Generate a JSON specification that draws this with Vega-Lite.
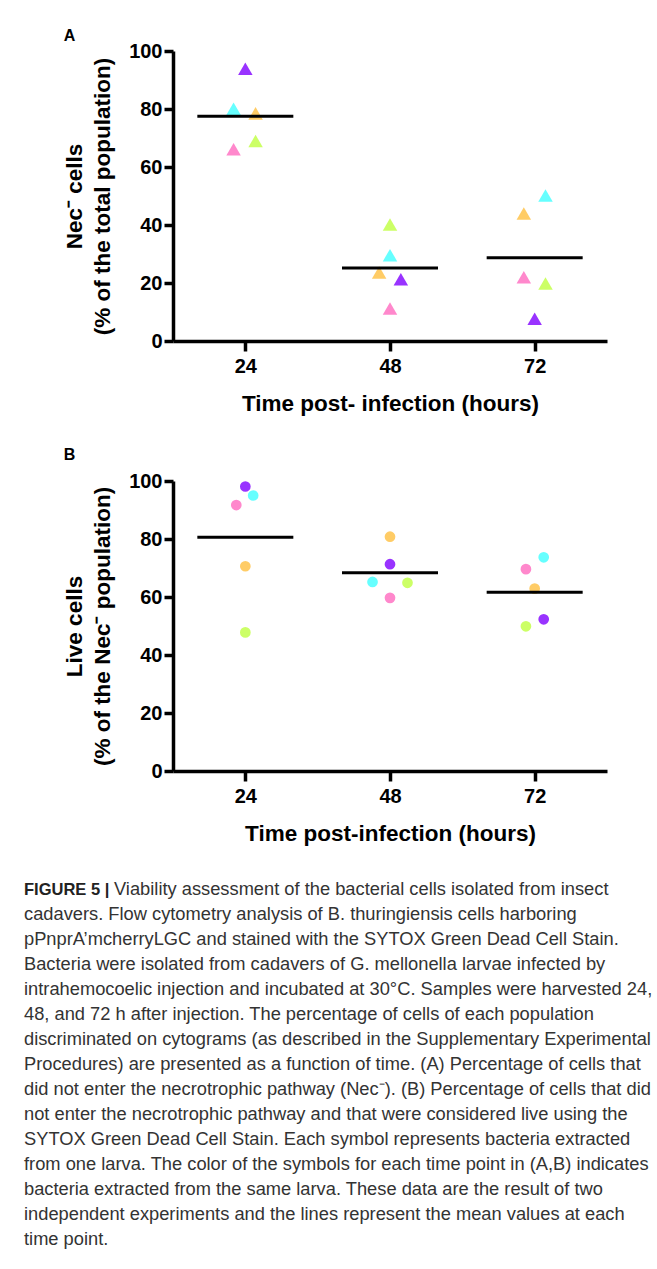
{
  "$schema": "https://vega.github.io/schema/vega-lite/v6.json",
  "background": "white",
  "padding": {"left": 24, "top": 28, "right": 4, "bottom": 20},
  "bounds": "flush",
  "spacing": 140,
  "config": {
    "view": {"stroke": null},
    "font": "Liberation Sans",
    "axis": {
      "grid": false,
      "domainColor": "#000000",
      "domainWidth": 3.5,
      "tickColor": "#000000",
      "tickWidth": 3.5,
      "tickSize": 9,
      "labelFont": "Liberation Sans",
      "labelFontSize": 20,
      "labelFontWeight": "bold",
      "labelColor": "#000000",
      "titleFont": "Liberation Sans",
      "titleFontSize": 22.5,
      "titleFontWeight": "bold",
      "titleColor": "#000000",
      "titleLineHeight": 28
    },
    "axisX": {"labelPadding": 5, "titlePadding": 16, "tickSize": 10},
    "axisY": {"labelPadding": 2, "titlePadding": 14},
    "title": {"font": "Liberation Sans", "fontSize": 16, "fontWeight": "bold", "color": "#000000", "anchor": "start", "frame": "bounds"}
  },
  "datasets": {
    "nec": [
      {"time": 24, "pos": 24.0, "larva": "L1", "value": 93.9},
      {"time": 24, "pos": 22.05, "larva": "L2", "value": 80.1},
      {"time": 24, "pos": 25.7, "larva": "L3", "value": 78.5},
      {"time": 24, "pos": 25.7, "larva": "L4", "value": 69.0},
      {"time": 24, "pos": 22.05, "larva": "L5", "value": 66.1},
      {"time": 48, "pos": 48.0, "larva": "L4", "value": 40.2},
      {"time": 48, "pos": 48.0, "larva": "L2", "value": 29.6},
      {"time": 48, "pos": 46.2, "larva": "L3", "value": 23.6},
      {"time": 48, "pos": 49.8, "larva": "L1", "value": 21.3},
      {"time": 48, "pos": 48.0, "larva": "L5", "value": 11.2},
      {"time": 72, "pos": 73.8, "larva": "L2", "value": 50.2},
      {"time": 72, "pos": 70.2, "larva": "L3", "value": 44.0},
      {"time": 72, "pos": 70.2, "larva": "L5", "value": 22.0},
      {"time": 72, "pos": 73.8, "larva": "L4", "value": 19.8},
      {"time": 72, "pos": 72.0, "larva": "L1", "value": 7.7}
    ],
    "live": [
      {"time": 24, "pos": 24.0, "larva": "L1", "value": 98.1},
      {"time": 24, "pos": 25.3, "larva": "L2", "value": 95.0},
      {"time": 24, "pos": 22.5, "larva": "L5", "value": 91.7},
      {"time": 24, "pos": 24.0, "larva": "L3", "value": 70.6},
      {"time": 24, "pos": 24.0, "larva": "L4", "value": 47.8},
      {"time": 48, "pos": 48.0, "larva": "L3", "value": 80.8},
      {"time": 48, "pos": 48.0, "larva": "L1", "value": 71.3},
      {"time": 48, "pos": 45.1, "larva": "L2", "value": 65.2},
      {"time": 48, "pos": 50.9, "larva": "L4", "value": 64.9},
      {"time": 48, "pos": 48.0, "larva": "L5", "value": 59.7},
      {"time": 72, "pos": 73.5, "larva": "L2", "value": 73.7},
      {"time": 72, "pos": 70.55, "larva": "L5", "value": 69.6},
      {"time": 72, "pos": 72.0, "larva": "L3", "value": 62.9},
      {"time": 72, "pos": 73.5, "larva": "L1", "value": 52.3},
      {"time": 72, "pos": 70.55, "larva": "L4", "value": 49.9}
    ],
    "caption": [
      {"line": 1, "style": "bold", "text": "FIGURE 5 |"},
      {"line": 1, "style": "lead", "text": "Viability assessment of the bacterial cells isolated from insect"},
      {"line": 2, "style": "plain", "text": "cadavers. Flow cytometry analysis of B. thuringiensis cells harboring"},
      {"line": 3, "style": "plain", "text": "pPnprA’mcherryLGC and stained with the SYTOX Green Dead Cell Stain."},
      {"line": 4, "style": "plain", "text": "Bacteria were isolated from cadavers of G. mellonella larvae infected by"},
      {"line": 5, "style": "plain", "text": "intrahemocoelic injection and incubated at 30°C. Samples were harvested 24,"},
      {"line": 6, "style": "plain", "text": "48, and 72 h after injection. The percentage of cells of each population"},
      {"line": 7, "style": "plain", "text": "discriminated on cytograms (as described in the Supplementary Experimental"},
      {"line": 8, "style": "plain", "text": "Procedures) are presented as a function of time. (A) Percentage of cells that"},
      {"line": 9, "style": "plain", "text": "did not enter the necrotrophic pathway (Nec⁻). (B) Percentage of cells that did"},
      {"line": 10, "style": "plain", "text": "not enter the necrotrophic pathway and that were considered live using the"},
      {"line": 11, "style": "plain", "text": "SYTOX Green Dead Cell Stain. Each symbol represents bacteria extracted"},
      {"line": 12, "style": "plain", "text": "from one larva. The color of the symbols for each time point in (A,B) indicates"},
      {"line": 13, "style": "plain", "text": "bacteria extracted from the same larva. These data are the result of two"},
      {"line": 14, "style": "plain", "text": "independent experiments and the lines represent the mean values at each"},
      {"line": 15, "style": "plain", "text": "time point."}
    ]
  },
  "vconcat": [
    {
      "width": 434,
      "height": 290,
      "title": {"text": "A", "offset": -3},
      "data": {"name": "nec"},
      "layer": [
        {
          "mark": {"type": "point", "shape": "triangle-up", "filled": true, "size": 210, "opacity": 1, "strokeWidth": 0},
          "encoding": {
            "x": {"field": "pos", "type": "quantitative", "scale": {"domain": [12, 84], "nice": false, "zero": false}, "axis": {"values": [24, 48, 72], "title": "Time post- infection (hours)"}},
            "y": {"field": "value", "type": "quantitative", "scale": {"domain": [0, 100], "nice": false}, "axis": {"values": [0, 20, 40, 60, 80, 100], "title": ["Nec⁻ cells", "(% of the total population)"]}},
            "color": {"field": "larva", "type": "nominal", "scale": {"domain": ["L1", "L2", "L3", "L4", "L5"], "range": ["#9933ff", "#66ffff", "#ffcc66", "#ccff66", "#ff88cc"]}, "legend": null}
          }
        },
        {
          "mark": {"type": "tick", "orient": "horizontal", "size": 96, "thickness": 3, "color": "#000000", "opacity": 1},
          "encoding": {
            "x": {"field": "time", "type": "quantitative", "title": "Time post- infection (hours)"},
            "y": {"aggregate": "mean", "field": "value", "type": "quantitative", "title": ["Nec⁻ cells", "(% of the total population)"]}
          }
        }
      ]
    },
    {
      "width": 434,
      "height": 290,
      "title": {"text": "B", "offset": 8},
      "data": {"name": "live"},
      "layer": [
        {
          "mark": {"type": "circle", "size": 115, "opacity": 1},
          "encoding": {
            "x": {"field": "pos", "type": "quantitative", "scale": {"domain": [12, 84], "nice": false, "zero": false}, "axis": {"values": [24, 48, 72], "title": "Time post-infection (hours)"}},
            "y": {"field": "value", "type": "quantitative", "scale": {"domain": [0, 100], "nice": false}, "axis": {"values": [0, 20, 40, 60, 80, 100], "title": ["Live cells", "(% of the Nec⁻ population)"]}},
            "color": {"field": "larva", "type": "nominal", "scale": {"domain": ["L1", "L2", "L3", "L4", "L5"], "range": ["#9933ff", "#66ffff", "#ffcc66", "#ccff66", "#ff88cc"]}, "legend": null}
          }
        },
        {
          "mark": {"type": "tick", "orient": "horizontal", "size": 96, "thickness": 3, "color": "#000000", "opacity": 1},
          "encoding": {
            "x": {"field": "time", "type": "quantitative", "title": "Time post-infection (hours)"},
            "y": {"aggregate": "mean", "field": "value", "type": "quantitative", "title": ["Live cells", "(% of the Nec⁻ population)"]}
          }
        }
      ]
    },
    {
      "width": 434,
      "height": 375,
      "data": {"name": "caption"},
      "encoding": {
        "y": {"field": "line", "type": "ordinal", "scale": {"type": "point", "padding": 0.5}, "axis": null},
        "text": {"field": "text"}
      },
      "layer": [
        {
          "transform": [{"filter": "datum.style == 'plain'"}],
          "mark": {"type": "text", "align": "left", "baseline": "middle", "x": -149, "dy": -34, "font": "Liberation Sans", "fontSize": 18.3, "color": "#333333"}
        },
        {
          "transform": [{"filter": "datum.style == 'lead'"}],
          "mark": {"type": "text", "align": "left", "baseline": "middle", "x": -149, "dx": 90, "dy": -34, "font": "Liberation Sans", "fontSize": 18.3, "color": "#333333"}
        },
        {
          "transform": [{"filter": "datum.style == 'bold'"}],
          "mark": {"type": "text", "align": "left", "baseline": "middle", "x": -149, "dy": -34, "font": "Liberation Sans", "fontSize": 16.5, "fontWeight": "bold", "color": "#222222"}
        }
      ]
    }
  ]
}
